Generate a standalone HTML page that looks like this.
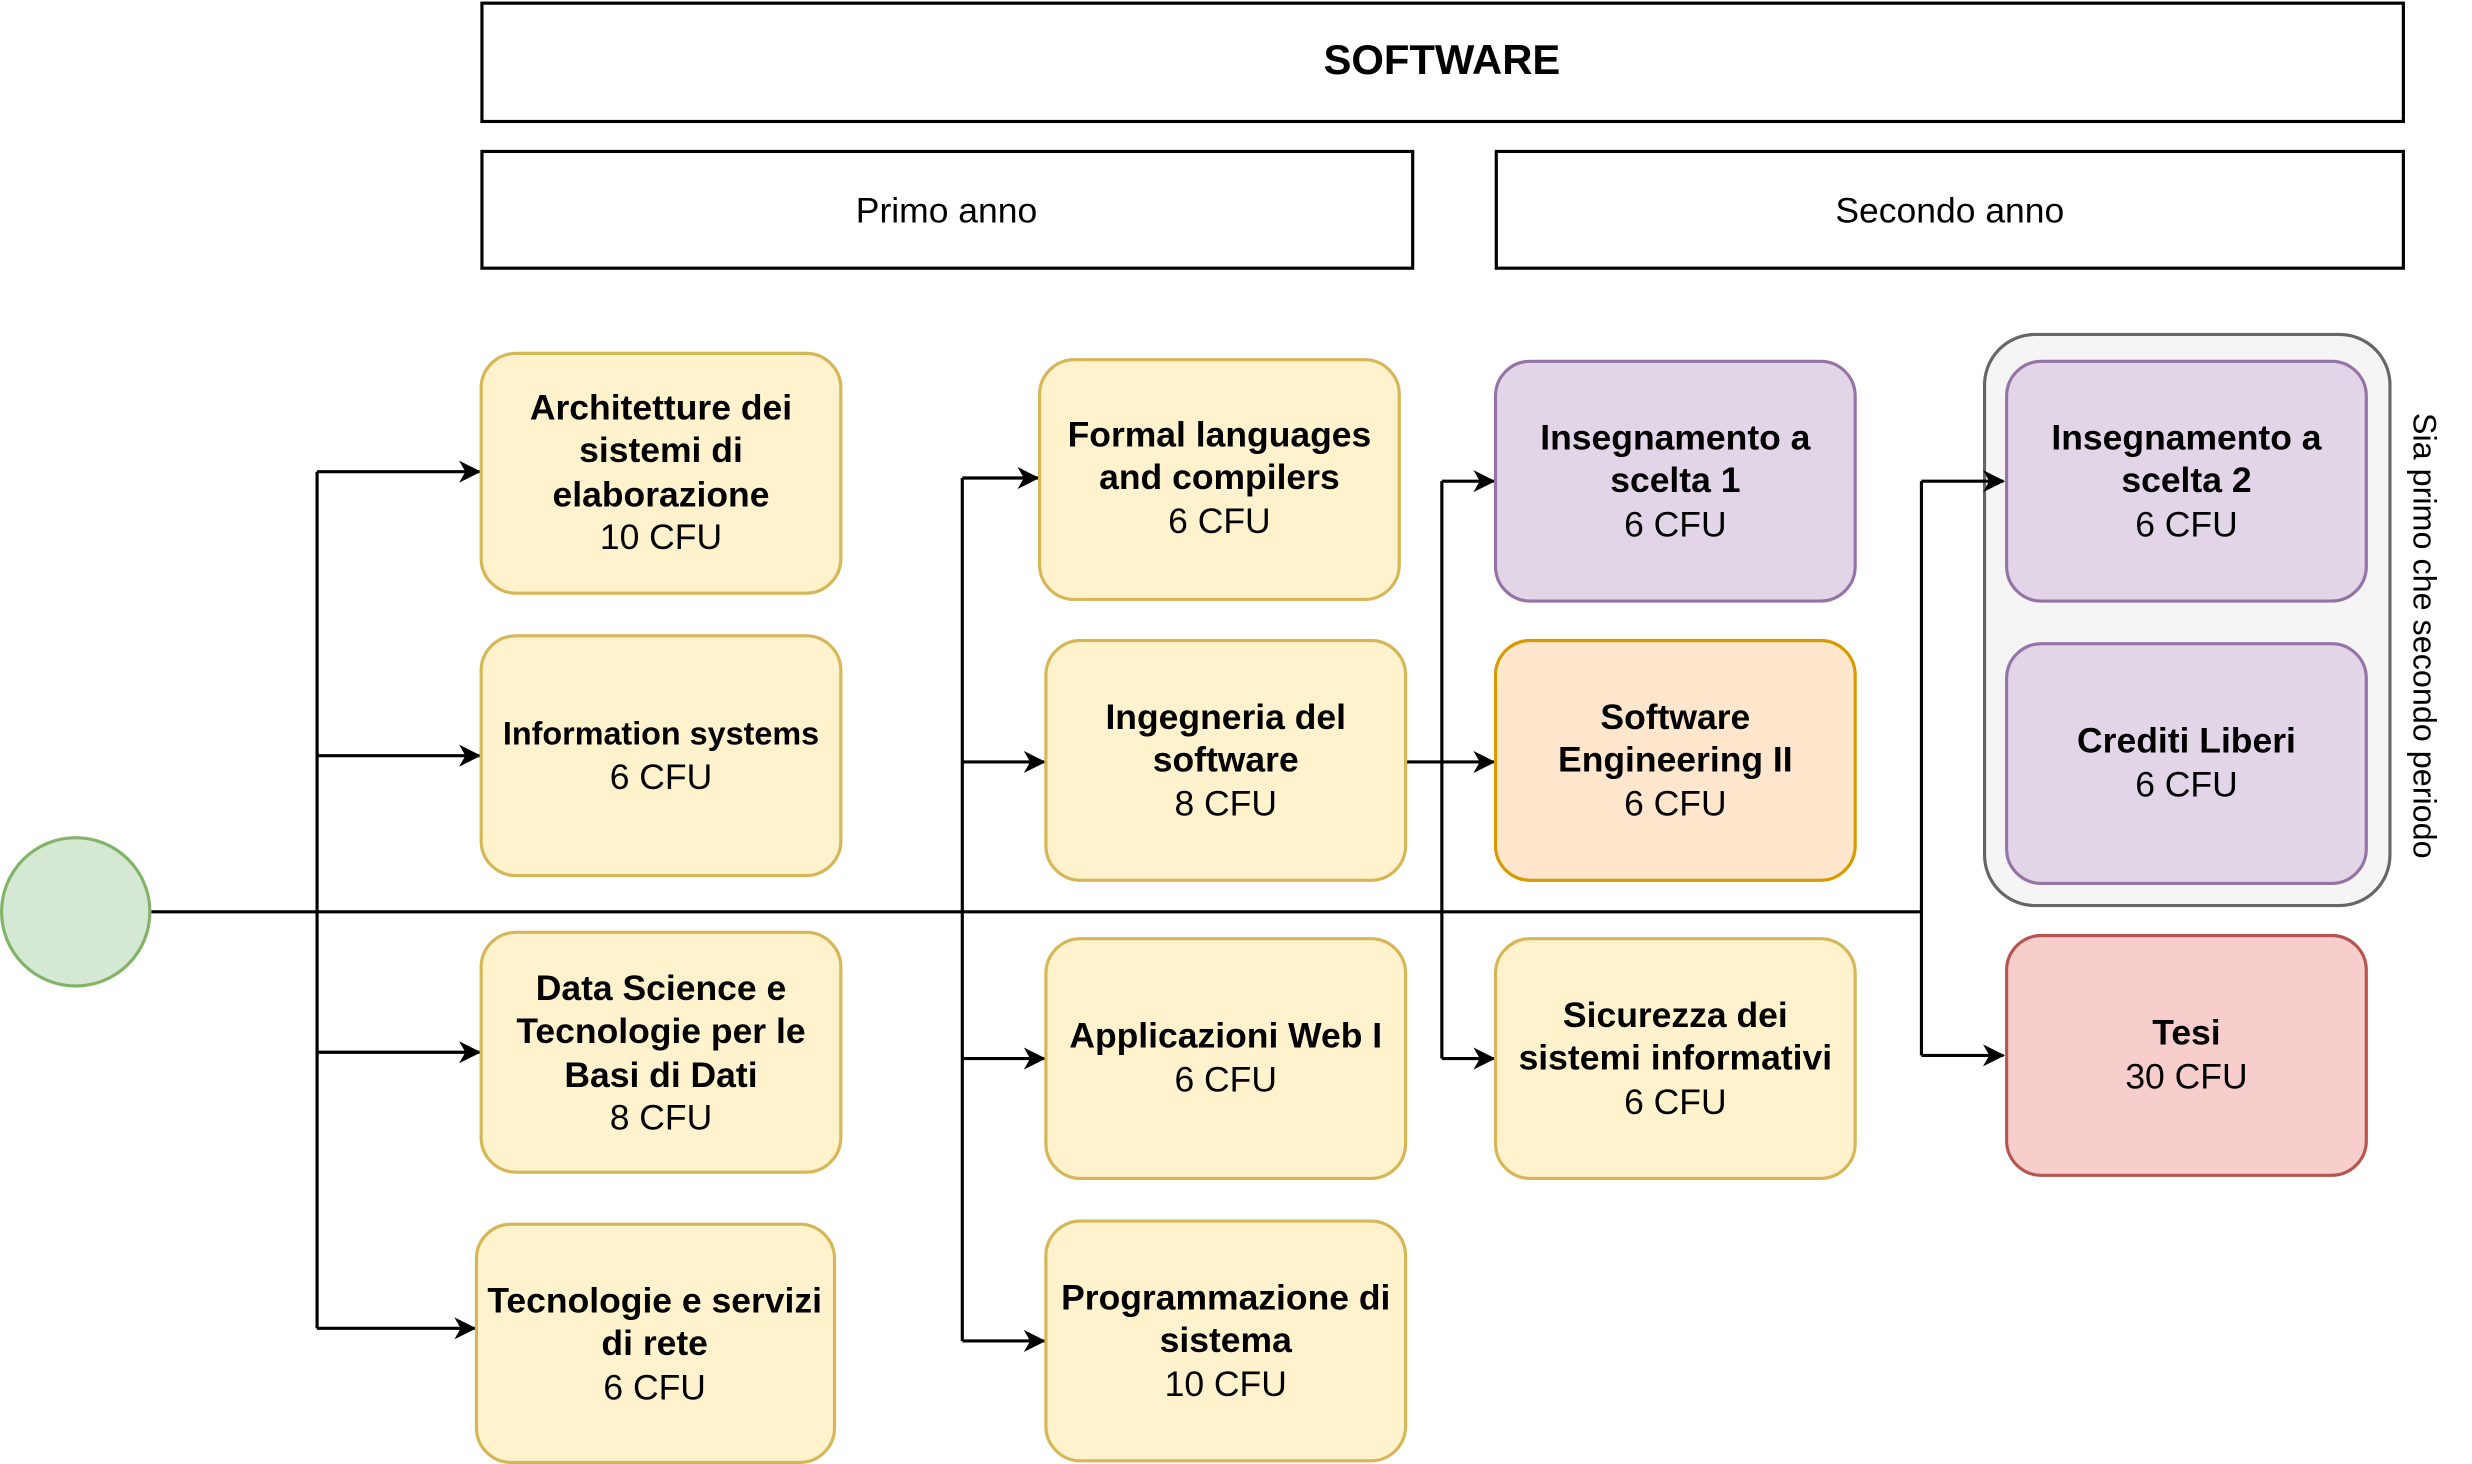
<!DOCTYPE html>
<html><head><meta charset="utf-8"><style>html,body{margin:0;padding:0;background:#fff}svg{display:block}</style></head>
<body>
<svg width="2472" height="1464" viewBox="0 0 1567 928" preserveAspectRatio="none" xmlns="http://www.w3.org/2000/svg" font-family="'Liberation Sans', Arial, sans-serif" font-size="22.5">
<defs><marker id="a" markerWidth="14" markerHeight="14" refX="13" refY="7" orient="auto" markerUnits="userSpaceOnUse"><path d="M0,0 L14,7 L0,14 L4,7 z" fill="#000"/></marker></defs>
<rect x="305.5" y="2" width="1218" height="75" fill="#fff" stroke="#000" stroke-width="2"/>
<text x="914" y="47" text-anchor="middle" font-weight="bold" font-size="26.5">SOFTWARE</text>
<rect x="305.5" y="96" width="590" height="74" fill="#fff" stroke="#000" stroke-width="2"/>
<text x="600" y="141" text-anchor="middle">Primo anno</text>
<rect x="948.5" y="96" width="575" height="74" fill="#fff" stroke="#000" stroke-width="2"/>
<text x="1236" y="141" text-anchor="middle">Secondo anno</text>
<rect x="1258" y="212" width="257" height="362" rx="32" fill="#f5f5f5" stroke="#666" stroke-width="2"/>
<text transform="translate(1530,403) rotate(90)" text-anchor="middle" font-size="20.5">Sia primo che secondo periodo</text>
<g fill="none" stroke="#000" stroke-width="2">
<path d="M96,578 H1218"/>
<path d="M201,299 V842"/><path d="M610,303 V850"/><path d="M914,305 V671"/><path d="M1218,305 V669"/><path d="M891,483 H914"/>
<g marker-end="url(#a)">
<path d="M201,299 H304"/><path d="M201,479 H304"/><path d="M201,667 H304"/><path d="M201,842 H301"/>
<path d="M610,303 H658"/><path d="M610,483 H662"/><path d="M610,671 H662"/><path d="M610,850 H662"/>
<path d="M914,305 H947"/><path d="M914,483 H947"/><path d="M914,671 H947"/>
<path d="M1218,305 H1270"/><path d="M1218,669 H1270"/>
</g></g>
<circle cx="48" cy="578" r="47" fill="#d5e8d4" stroke="#82b366" stroke-width="2"/>
<g stroke-width="2">
<rect x="305" y="224" width="228" height="152" rx="22" fill="#fff2cc" stroke="#d6b656"/>
<rect x="305" y="403" width="228" height="152" rx="22" fill="#fff2cc" stroke="#d6b656"/>
<rect x="305" y="591" width="228" height="152" rx="22" fill="#fff2cc" stroke="#d6b656"/>
<rect x="302" y="776" width="227" height="151" rx="22" fill="#fff2cc" stroke="#d6b656"/>
<rect x="659" y="228" width="228" height="152" rx="22" fill="#fff2cc" stroke="#d6b656"/>
<rect x="663" y="406" width="228" height="152" rx="22" fill="#fff2cc" stroke="#d6b656"/>
<rect x="663" y="595" width="228" height="152" rx="22" fill="#fff2cc" stroke="#d6b656"/>
<rect x="663" y="774" width="228" height="152" rx="22" fill="#fff2cc" stroke="#d6b656"/>
<rect x="948" y="229" width="228" height="152" rx="22" fill="#e1d5e7" stroke="#9673a6"/>
<rect x="948" y="406" width="228" height="152" rx="22" fill="#ffe6cc" stroke="#d79b00"/>
<rect x="948" y="595" width="228" height="152" rx="22" fill="#fff2cc" stroke="#d6b656"/>
<rect x="1272" y="229" width="228" height="152" rx="22" fill="#e1d5e7" stroke="#9673a6"/>
<rect x="1272" y="408" width="228" height="152" rx="22" fill="#e1d5e7" stroke="#9673a6"/>
<rect x="1272" y="593" width="228" height="152" rx="22" fill="#f8cecc" stroke="#b85450"/>
</g>
<g text-anchor="middle">
<text x="419" y="266" font-weight="bold">Architetture dei</text>
<text x="419" y="293" font-weight="bold">sistemi di</text>
<text x="419" y="321" font-weight="bold">elaborazione</text>
<text x="419" y="348">10 CFU</text>
<text x="419" y="472" font-weight="bold" font-size="20.5">Information systems</text>
<text x="419" y="500">6 CFU</text>
<text x="419" y="634" font-weight="bold">Data Science e</text>
<text x="419" y="661" font-weight="bold">Tecnologie per le</text>
<text x="419" y="689" font-weight="bold">Basi di Dati</text>
<text x="419" y="716">8 CFU</text>
<text x="415" y="832" font-weight="bold">Tecnologie e servizi</text>
<text x="415" y="859" font-weight="bold">di rete</text>
<text x="415" y="887">6 CFU</text>
<text x="773" y="283" font-weight="bold">Formal languages</text>
<text x="773" y="310" font-weight="bold">and compilers</text>
<text x="773" y="338">6 CFU</text>
<text x="777" y="462" font-weight="bold">Ingegneria del</text>
<text x="777" y="489" font-weight="bold">software</text>
<text x="777" y="517">8 CFU</text>
<text x="777" y="664" font-weight="bold">Applicazioni Web I</text>
<text x="777" y="692">6 CFU</text>
<text x="777" y="830" font-weight="bold">Programmazione di</text>
<text x="777" y="857" font-weight="bold">sistema</text>
<text x="777" y="885">10 CFU</text>
<text x="1062" y="285" font-weight="bold">Insegnamento a</text>
<text x="1062" y="312" font-weight="bold">scelta 1</text>
<text x="1062" y="340">6 CFU</text>
<text x="1062" y="462" font-weight="bold">Software</text>
<text x="1062" y="489" font-weight="bold">Engineering II</text>
<text x="1062" y="517">6 CFU</text>
<text x="1062" y="651" font-weight="bold">Sicurezza dei</text>
<text x="1062" y="678" font-weight="bold">sistemi informativi</text>
<text x="1062" y="706">6 CFU</text>
<text x="1386" y="285" font-weight="bold">Insegnamento a</text>
<text x="1386" y="312" font-weight="bold">scelta 2</text>
<text x="1386" y="340">6 CFU</text>
<text x="1386" y="477" font-weight="bold">Crediti Liberi</text>
<text x="1386" y="505">6 CFU</text>
<text x="1386" y="662" font-weight="bold">Tesi</text>
<text x="1386" y="690">30 CFU</text>
</g>
</svg>
</body></html>
